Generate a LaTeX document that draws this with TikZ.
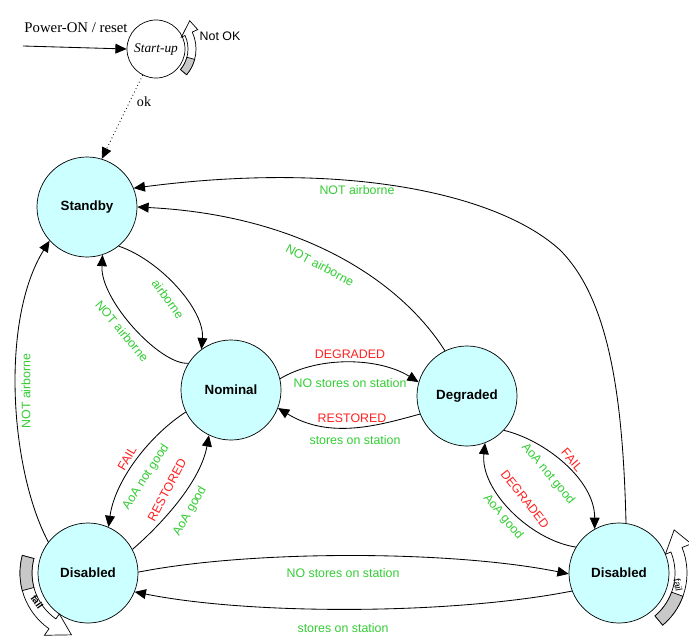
\documentclass[tikz,border=0pt]{standalone}
\usepackage{fontspec}
\setmainfont{Liberation Sans}
\newfontfamily\tmsfont{Liberation Serif}
\usetikzlibrary{arrows.meta}
\definecolor{etatfond}{HTML}{CCFFFF}
\definecolor{vert}{HTML}{33CC33}
\definecolor{rouge}{HTML}{FF2020}
\definecolor{gris}{HTML}{C8C8C8}
\tikzset{
  stat/.style={circle,draw,line width=0.5pt,fill=etatfond,inner sep=0pt,
    minimum size=2.5cm,font=\bfseries\fontsize{9.5}{11}\selectfont},
  trans/.style={line width=0.6pt,-{Triangle[length=8pt,width=7pt]}},
  cond/.style={text=vert,inner sep=0.5pt,font=\fontsize{8.8}{10}\selectfont},
  evt/.style={text=rouge,inner sep=0.5pt,font=\fontsize{8.8}{10}\selectfont},
  lbl/.style={inner sep=1pt,font=\fontsize{8.8}{10}\selectfont},
  boucle/.style={draw,line width=0.5pt,fill=white},
}

\begin{document}
\begin{tikzpicture}[x=0.025cm,y=-0.025cm]
  \useasboundingbox (0,0) rectangle (689,639);

  % etats
  \node[stat,fill=white,minimum size=1.45cm,
    font=\tmsfont\itshape\fontsize{9.5}{11}\selectfont] (startup) at (156,49) {Start-up};
  \node[stat] (standby) at (87,207) {Standby};
  \node[stat] (nominal) at (231,390) {Nominal};
  \node[stat] (degraded) at (467,396) {Degraded};
  \node[stat] (disL) at (88,573) {Disabled};
  \node[stat] (disR) at (619,573) {Disabled};

  % mise sous tension
  \coordinate (pwr) at (23,46);
  \draw[trans] (pwr) -- (startup.west);
  \node[inner sep=1pt,font=\tmsfont\fontsize{10.5}{12}\selectfont] (lpwr) at (76,28) {Power-ON / reset};
  \draw[trans,dotted] (startup.-117) -- (standby.73);
  \node[inner sep=1pt,font=\tmsfont\fontsize{10}{11}\selectfont] (lok) at (144,102) {ok};
  \node[lbl] (lnok) at (220,36) {Not OK};

  % retours vers Standby
  \draw[trans] (disR.82) .. controls (623,400) and (610,300) .. (560,250)
    .. controls (500,195) and (350,160) .. (standby.22);
  \node[cond] (lna1) at (357,190) {NOT airborne};
  \draw[trans] (degraded.116) .. controls (400,280) and (300,215) .. (standby.0);
  \node[cond,rotate=-28] (lna2) at (320,265) {NOT airborne};
  \draw[trans] (nominal.148) .. controls (160,365) and (100,300) .. (standby.-72);
  \node[cond,rotate=-50] (lna3) at (122,331) {NOT airborne};
  \draw[trans] (disL.142) .. controls (10,470) and (0,320) .. (standby.222);
  \node[cond,rotate=90] (lna4) at (26,391) {NOT airborne};
  \draw[trans] (standby.-51) .. controls (160,260) and (205,310) .. (nominal.126);
  \node[cond,rotate=-54] (lab) at (168,299) {airborne};

  % Nominal <-> Degraded
  \draw[trans] (nominal.13) .. controls (320,355) and (380,358) .. (degraded.164);
  \node[evt] (ldeg1) at (350,354) {DEGRADED};
  \node[cond] (lnos1) at (350,383) {NO stores on station};
  \draw[trans] (degraded.201) .. controls (380,425) and (330,440) .. (nominal.-21);
  \node[evt] (lres1) at (352,418) {RESTORED};
  \node[cond] (lsos1) at (355,440) {stores on station};

  % Nominal <-> Disabled
  \draw[trans] (nominal.206) .. controls (150,435) and (115,480) .. (disL.66);
  \node[evt,rotate=60] (lfail1) at (127,458) {FAIL};
  \node[cond,rotate=57] (lang1) at (146,477) {AoA not good};
  \draw[trans] (disL.28) .. controls (155,530) and (200,485) .. (nominal.244);
  \node[evt,rotate=62] (lres2) at (167,490) {RESTORED};
  \node[cond,rotate=60] (lag1) at (190,511) {AoA good};

  % Degraded <-> Disabled
  \draw[trans] (degraded.-43) .. controls (545,440) and (595,480) .. (disR.119);
  \node[evt,rotate=-50] (lfail2) at (572,460) {FAIL};
  \node[cond,rotate=-50] (lang2) at (548,474) {AoA not good};
  \draw[trans] (disR.149) .. controls (530,540) and (480,490) .. (degraded.-69);
  \node[evt,rotate=-52] (ldeg2) at (525,499) {DEGRADED};
  \node[cond,rotate=-50] (lag2) at (503,517) {AoA good};

  % Disabled <-> Disabled
  \draw[trans] (disL.1) .. controls (250,550) and (450,550) .. (disR.181);
  \node[cond] (lnos2) at (343,573) {NO stores on station};
  \draw[trans] (disR.201) .. controls (450,615) and (250,615) .. (disL.-22);
  \node[cond] (lsos2) at (343,628) {stores on station};

  % boucles
  \begin{scope}[shift={(startup)}]
    \draw[boucle] (40:32) arc[start angle=40,end angle=-25,radius=32] -- (-25:28)
      -- (-40:44) -- (-25:46) -- (-25:40) arc[start angle=-25,end angle=40,radius=40] -- cycle;
    \draw[boucle,fill=gris] (40:32) arc[start angle=40,end angle=15,radius=32]
      -- (15:40) arc[start angle=15,end angle=40,radius=40] -- cycle;
  \end{scope}
  \begin{scope}[shift={(disR)}]
    \draw[boucle] (50:56) arc[start angle=50,end angle=-22,radius=56] -- (-22:50)
      -- (-38:70) -- (-22:78) -- (-22:68) arc[start angle=-22,end angle=50,radius=68] -- cycle;
    \draw[boucle,fill=gris] (50:56) arc[start angle=50,end angle=20,radius=56]
      -- (20:68) arc[start angle=20,end angle=50,radius=68] -- cycle;
  \end{scope}
  \begin{scope}[shift={(disL)}]
    \draw[boucle] (195:56) arc[start angle=195,end angle=125,radius=56] -- (125:50)
      -- (105:64) -- (125:76) -- (125:68) arc[start angle=125,end angle=195,radius=68] -- cycle;
    \draw[boucle,fill=gris] (195:56) arc[start angle=195,end angle=165,radius=56]
      -- (165:68) arc[start angle=165,end angle=195,radius=68] -- cycle;
  \end{scope}
  \node[lbl,font=\bfseries\fontsize{7}{8}\selectfont,rotate=-55] (lfl) at (37,602) {fail};
  \node[lbl,font=\fontsize{7}{8}\selectfont,rotate=-80] (lfr) at (678,585) {fail};
\end{tikzpicture}
\end{document}
